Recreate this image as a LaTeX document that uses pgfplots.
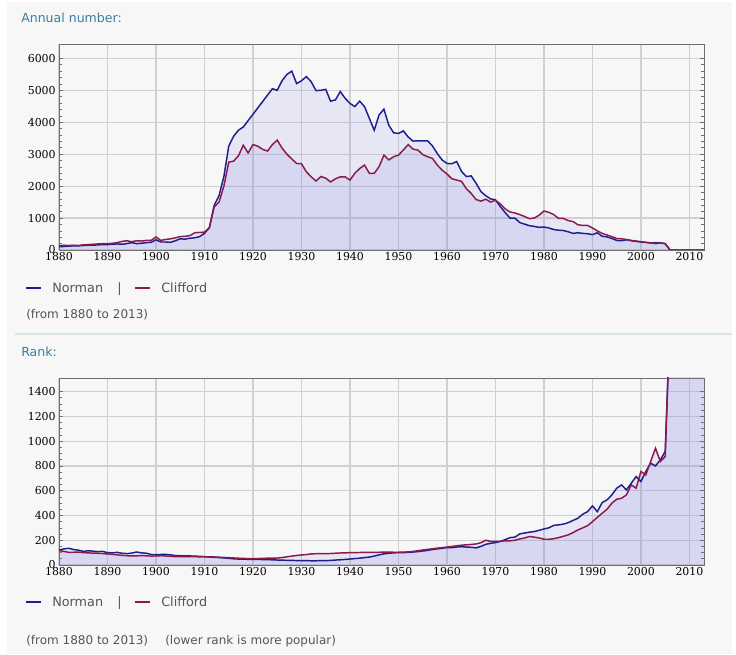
\documentclass[border=0pt]{standalone}
\usepackage{fontspec}
\setmainfont{DejaVu Sans}
\newfontfamily\tickfont{DejaVu Serif}
\usepackage{pgfplots}
\usepackage{pgfplotstable}
\pgfplotsset{compat=1.18}
\definecolor{bgc}{RGB}{247,247,247}
\definecolor{nav}{RGB}{30,30,140}
\definecolor{mar}{RGB}{140,25,75}
\definecolor{fillc}{RGB}{120,120,225}
\definecolor{gridc}{RGB}{208,208,208}
\definecolor{titlec}{RGB}{60,125,160}
\definecolor{txt}{RGB}{85,85,85}
\definecolor{sepc}{RGB}{215,228,235}
\definecolor{framec}{RGB}{110,110,110}

\pgfplotstableread{
year n c
1880 100 130
1881 110 150
1882 120 140
1883 130 150
1884 130 140
1885 140 160
1886 150 170
1887 150 180
1888 160 190
1889 170 200
1890 170 200
1891 180 210
1892 190 230
1893 180 270
1894 200 290
1895 230 260
1896 200 290
1897 210 280
1898 230 300
1899 240 300
1900 320 410
1901 250 300
1902 250 330
1903 240 350
1904 290 380
1905 350 420
1906 340 430
1907 370 450
1908 380 540
1909 420 550
1910 520 560
1911 700 690
1912 1400 1350
1913 1700 1500
1914 2300 2000
1915 3250 2750
1916 3560 2780
1917 3750 2950
1918 3850 3280
1919 4050 3040
1920 4250 3300
1921 4450 3250
1922 4650 3150
1923 4850 3100
1924 5050 3300
1925 5000 3440
1926 5300 3190
1927 5500 3000
1928 5600 2850
1929 5210 2710
1930 5300 2700
1931 5430 2450
1932 5270 2290
1933 4990 2160
1934 5000 2300
1935 5030 2250
1936 4660 2130
1937 4700 2230
1938 4960 2290
1939 4750 2290
1940 4590 2190
1941 4490 2400
1942 4660 2550
1943 4490 2660
1944 4120 2400
1945 3750 2400
1946 4230 2610
1947 4410 2970
1948 3910 2820
1949 3670 2920
1950 3650 2970
1951 3730 3130
1952 3540 3300
1953 3410 3160
1954 3420 3130
1955 3420 2990
1956 3420 2920
1957 3260 2870
1958 3020 2660
1959 2820 2500
1960 2710 2380
1961 2700 2230
1962 2770 2190
1963 2460 2150
1964 2300 1920
1965 2320 1770
1966 2090 1580
1967 1830 1530
1968 1700 1590
1969 1600 1500
1970 1570 1560
1971 1360 1440
1972 1170 1290
1973 1000 1190
1974 1000 1160
1975 860 1110
1976 810 1050
1977 760 980
1978 740 1000
1979 710 1090
1980 720 1220
1981 690 1180
1982 640 1110
1983 620 990
1984 610 990
1985 570 920
1986 520 890
1987 540 790
1988 520 770
1989 510 770
1990 480 690
1991 540 600
1992 430 520
1993 410 470
1994 360 420
1995 300 360
1996 290 350
1997 320 330
1998 290 300
1999 270 280
2000 250 260
2001 240 240
2002 220 220
2003 230 200
2004 220 220
2005 200 200
2006 0 0
2007 0 0
2008 0 0
2009 0 0
2010 0 0
2011 0 0
2012 0 0
2013 0 0
}\numtable

\pgfplotstableread{
year n c
1880 121 116
1881 130 110
1882 135 102
1883 125 103
1884 120 104
1885 110 100
1886 115 98
1887 112 96
1888 108 95
1889 110 92
1890 100 89
1891 98 86
1892 102 82
1893 95 78
1894 92 75
1895 96 73
1896 105 74
1897 98 76
1898 95 74
1899 85 72
1900 83 73
1901 85 75
1902 86 73
1903 82 70
1904 76 68
1905 75 67
1906 74 68
1907 73 68
1908 72 67
1909 70 66
1910 67 67
1911 64 66
1912 62 65
1913 60 63
1914 57 61
1915 54 59
1916 50 57
1917 48 55
1918 47 53
1919 46 52
1920 46 51
1921 45 52
1922 44 54
1923 43 55
1924 42 56
1925 40 56
1926 39 60
1927 38 66
1928 37 72
1929 36 77
1930 35 81
1931 35 84
1932 34 90
1933 34 91
1934 35 91
1935 35 91
1936 37 93
1937 40 95
1938 42 97
1939 45 98
1940 48 100
1941 52 100
1942 55 101
1943 60 102
1944 64 102
1945 72 102
1946 82 103
1947 90 104
1948 95 104
1949 98 103
1950 100 103
1951 100 104
1952 102 106
1953 105 110
1954 108 115
1955 113 121
1956 118 126
1957 125 131
1958 130 136
1959 135 140
1960 140 145
1961 140 150
1962 145 155
1963 148 160
1964 145 163
1965 143 166
1966 138 170
1967 150 180
1968 167 200
1969 175 190
1970 181 190
1971 190 192
1972 205 195
1973 221 195
1974 225 200
1975 251 210
1976 258 218
1977 265 230
1978 270 225
1979 280 218
1980 291 208
1981 300 208
1982 320 212
1983 324 221
1984 330 232
1985 342 243
1986 360 262
1987 378 283
1988 410 300
1989 431 318
1990 477 350
1991 431 385
1992 504 418
1993 526 450
1994 566 499
1995 620 531
1996 647 539
1997 606 566
1998 660 647
1999 714 620
2000 674 755
2001 755 728
2002 822 836
2003 800 943
2004 849 836
2005 917 876
2006 2000 2000
2007 2000 2000
2008 2000 2000
2009 2000 2000
2010 2000 2000
2011 2000 2000
2012 2000 2000
2013 2000 2000
}\ranktable

\pgfplotsset{
  namestyle/.style={
    scale only axis,
    width=483.75pt,
    xmin=1880, xmax=2013,
    xtick={1880,1890,...,2010},
    grid=major,
    major grid style={gridc, line width=0.9pt},
    axis line style={framec, line width=0.6pt},
    tick style={framec, line width=0.5pt},
    major tick length=3pt,
    minor tick length=2pt,
    xtick style={draw=none},
    ticklabel style={font=\tickfont\fontsize{8.2}{9}\selectfont, text=black},
    /pgf/number format/assume math mode=true,
    /pgf/number format/1000 sep={},
    xticklabel style={yshift=1.5pt},
    yticklabel style={xshift=1pt},
    axis background/.style={fill=bgc},
    clip=true,
  }
}

\begin{document}
\begin{tikzpicture}[x=0.75pt,y=0.75pt]
\fill[white] (0,0) rectangle (736,654);
\fill[bgc] (7,0) rectangle (732,652);

% titles and legends
\node[anchor=base west, inner sep=0, text=titlec, font=\fontsize{9.4}{11}\selectfont] at (21,631.3) {Annual number:};
\draw[nav, line width=1.6pt] (26,366) -- (41,366);
\node[anchor=base west, inner sep=0, text=txt, font=\fontsize{9.6}{11}\selectfont] at (52,361.3) {Norman};
\node[anchor=base west, inner sep=0, text=txt, font=\fontsize{9.6}{11}\selectfont] at (117,361.3) {|};
\draw[mar, line width=1.6pt] (135,366) -- (150,366);
\node[anchor=base west, inner sep=0, text=txt, font=\fontsize{9.6}{11}\selectfont] at (161,361.3) {Clifford};
\node[anchor=base west, inner sep=0, text=txt, font=\fontsize{9}{11}\selectfont] at (26,335) {(from 1880 to 2013)};
\draw[sepc, line width=1.2pt] (15,320) -- (732,320);
\node[anchor=base west, inner sep=0, text=titlec, font=\fontsize{9.4}{11}\selectfont] at (21,297.3) {Rank:};
\draw[nav, line width=1.6pt] (26,52) -- (41,52);
\node[anchor=base west, inner sep=0, text=txt, font=\fontsize{9.6}{11}\selectfont] at (52,47.3) {Norman};
\node[anchor=base west, inner sep=0, text=txt, font=\fontsize{9.6}{11}\selectfont] at (117,47.3) {|};
\draw[mar, line width=1.6pt] (135,52) -- (150,52);
\node[anchor=base west, inner sep=0, text=txt, font=\fontsize{9.6}{11}\selectfont] at (161,47.3) {Clifford};
\node[anchor=base west, inner sep=0, text=txt, font=\fontsize{9}{11}\selectfont] at (26,10) {(from 1880 to 2013)};
\node[anchor=base west, inner sep=0, text=txt, font=\fontsize{9}{11}\selectfont] at (165,10) {(lower rank is more popular)};

\begin{axis}[namestyle, at={(44.25pt,303pt)}, anchor=south west,
  height=154.5pt, ymin=0, ymax=6450,
  ytick={0,1000,...,6000}, minor y tick num=4]
\addplot[draw=none, fill=fillc, fill opacity=0.13] table[x=year,y=n] {\numtable} \closedcycle;
\addplot[draw=none, fill=fillc, fill opacity=0.13] table[x=year,y=c] {\numtable} \closedcycle;
\addplot[nav, line width=1.1pt] table[x=year,y=n] {\numtable};
\addplot[mar, line width=1.1pt] table[x=year,y=c] {\numtable};
\end{axis}

\begin{axis}[namestyle, at={(44.25pt,66.75pt)}, anchor=south west,
  height=140.25pt, ymin=0, ymax=1510,
  ytick={0,200,...,1400}, minor y tick num=3]
\addplot[draw=none, fill=fillc, fill opacity=0.13] table[x=year,y=n] {\ranktable} \closedcycle;
\addplot[draw=none, fill=fillc, fill opacity=0.13] table[x=year,y=c] {\ranktable} \closedcycle;
\addplot[nav, line width=1.1pt] table[x=year,y=n] {\ranktable};
\addplot[mar, line width=1.1pt] table[x=year,y=c] {\ranktable};
\end{axis}
\end{tikzpicture}
\end{document}
